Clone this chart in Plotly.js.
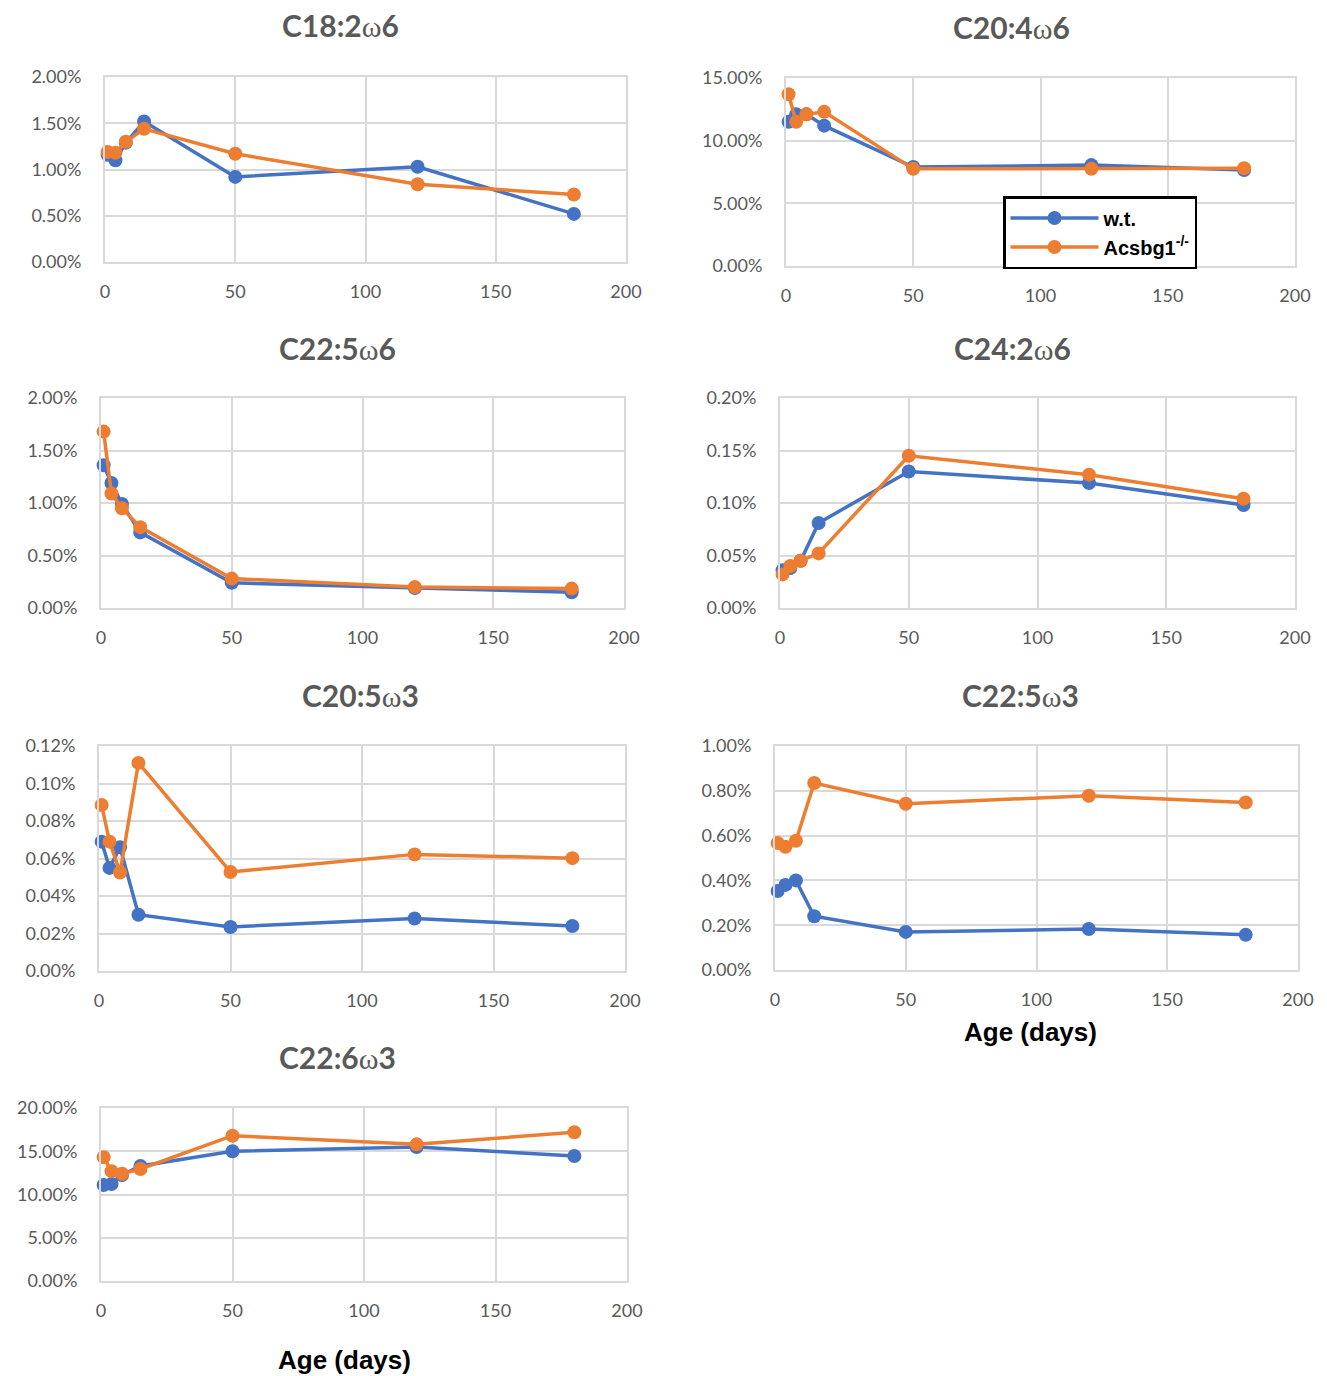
<!DOCTYPE html>
<html>
<head>
<meta charset="utf-8">
<script src="https://cdn.plot.ly/plotly-3.0.1.min.js"></script>
<style>
  html, body { margin: 0; padding: 0; background: #ffffff; }
  #chart { width: 1327px; height: 1376px; }
</style>
</head>
<body>
<div id="chart"></div>
<script>
// Age in days (x values, shared by every panel)
const ages = [1, 4, 8, 15, 50, 120, 180];

// Panel titles
const panelTitles = ["C18:2ω6", "C20:4ω6", "C22:5ω6", "C24:2ω6", "C20:5ω3", "C22:5ω3", "C22:6ω3"];

// Series names
const seriesNames = ["w.t.", "Acsbg1<sup>-/-</sup>"];

// Values in percent, w.t. (blue)
const wt_C18_2w6 = [1.16, 1.10, 1.29, 1.52, 0.92, 1.03, 0.52];
const wt_C20_4w6 = [11.5, 12.1, 12.1, 11.2, 7.9, 8.05, 7.65];
const wt_C22_5w6 = [1.36, 1.19, 0.99, 0.72, 0.24, 0.19, 0.15];
const wt_C24_2w6 = [0.036, 0.038, 0.045, 0.081, 0.130, 0.119, 0.098];
const wt_C20_5w3 = [0.069, 0.055, 0.066, 0.030, 0.0235, 0.028, 0.024];
const wt_C22_5w3 = [0.353, 0.38, 0.40, 0.24, 0.17, 0.183, 0.157];
const wt_C22_6w3 = [11.1, 11.2, 12.25, 13.3, 15.0, 15.5, 14.45];

// Values in percent, Acsbg1-/- (orange)
const ko_C18_2w6 = [1.19, 1.18, 1.30, 1.44, 1.17, 0.84, 0.73];
const ko_C20_4w6 = [13.7, 11.5, 12.1, 12.3, 7.75, 7.75, 7.8];
const ko_C22_5w6 = [1.68, 1.09, 0.95, 0.77, 0.28, 0.20, 0.185];
const ko_C24_2w6 = [0.032, 0.040, 0.045, 0.052, 0.145, 0.127, 0.104];
const ko_C20_5w3 = [0.0885, 0.069, 0.0525, 0.111, 0.0528, 0.0622, 0.0602];
const ko_C22_5w3 = [0.567, 0.55, 0.577, 0.835, 0.742, 0.778, 0.748];
const ko_C22_6w3 = [14.3, 12.7, 12.4, 12.95, 16.8, 15.8, 17.2];

// Y axis ranges / tick steps (percent)
const yMax  = [2, 15, 2, 0.2, 0.12, 1, 20];
const yStep = [0.5, 5, 0.5, 0.05, 0.02, 0.2, 5];

const wtSeries = [wt_C18_2w6, wt_C20_4w6, wt_C22_5w6, wt_C24_2w6, wt_C20_5w3, wt_C22_5w3, wt_C22_6w3];
const koSeries = [ko_C18_2w6, ko_C20_4w6, ko_C22_5w6, ko_C24_2w6, ko_C20_5w3, ko_C22_5w3, ko_C22_6w3];

// ---- layout geometry (pixels) ----
const W = 1327, H = 1376;
const boxes = [ // [left, right, top, bottom, titleX, titleY]
  [105, 626, 77, 262, 341, 25],
  [786, 1295, 78, 266, 1011, 27],
  [101, 624, 398, 608, 338, 348],
  [780, 1295, 398, 608, 1012, 348],
  [99, 625, 746, 971, 360, 695],
  [775, 1298, 746, 970, 1020, 695],
  [101, 627, 1108, 1281, 337, 1057]
];
const blue = '#4472C4', orange = '#ED7D31';
const grid = '#d9d9d9', textGray = '#595959';
const tickFont = {family: 'Lato, "Liberation Sans", sans-serif', size: 18, color: textGray};

function fmtTitle(s) {
  return s.replace('ω', '<span style="font-family:\'Liberation Serif\', serif;font-weight:normal">ω</span>');
}

const data = [];
const layout = {
  width: W, height: H,
  margin: {l: 0, r: 0, t: 0, b: 0},
  paper_bgcolor: '#ffffff', plot_bgcolor: '#ffffff',
  showlegend: true,
  legend: {
    x: 1003 / W, y: 1 - 196 / H, xanchor: 'left', yanchor: 'top',
    bgcolor: '#ffffff', bordercolor: '#000000', borderwidth: 2.5,
    font: {family: '"Liberation Sans", Arial, sans-serif', size: 20, color: '#000000', weight: 'bold'},
    tracegroupgap: 0, itemwidth: 88, traceorder: 'normal', entrywidth: 110
  },
  annotations: [],
  font: {family: 'Lato, "Liberation Sans", sans-serif'}
};

for (let i = 0; i < 7; i++) {
  const n = i === 0 ? '' : String(i + 1);
  const [l, r, t, b, tx, ty] = boxes[i];
  const common = {
    x: ages, mode: 'lines+markers', xaxis: 'x' + n, yaxis: 'y' + n, cliponaxis: false
  };
  data.push(Object.assign({}, common, {
    y: wtSeries[i], name: seriesNames[0], legendgroup: 'wt', showlegend: i === 1,
    line: {color: blue, width: 3.5}, marker: {color: blue, size: 14}
  }));
  data.push(Object.assign({}, common, {
    y: koSeries[i], name: seriesNames[1], legendgroup: 'ko', showlegend: i === 1,
    line: {color: orange, width: 3.5}, marker: {color: orange, size: 14}
  }));
  layout['xaxis' + n] = {
    domain: [l / W, r / W], anchor: 'y' + n,
    range: [0, 200], dtick: 50, tick0: 0,
    showgrid: true, gridcolor: grid, gridwidth: 2,
    showline: true, linecolor: grid, linewidth: 2, mirror: true,
    zeroline: false, ticks: '', ticklabelstandoff: 12,
    tickfont: tickFont, fixedrange: true
  };
  layout['yaxis' + n] = {
    domain: [1 - b / H, 1 - t / H], anchor: 'x' + n,
    range: [0, yMax[i]], dtick: yStep[i], tick0: 0,
    tickformat: '.2f', ticksuffix: '%',
    showgrid: true, gridcolor: grid, gridwidth: 2,
    showline: true, linecolor: grid, linewidth: 2, mirror: true,
    zeroline: false, ticks: '', ticklabelstandoff: 18,
    tickfont: tickFont, fixedrange: true
  };
  layout.annotations.push({
    text: fmtTitle(panelTitles[i]), xref: 'paper', yref: 'paper',
    x: tx / W, y: 1 - ty / H, xanchor: 'center', yanchor: 'middle',
    showarrow: false,
    font: {family: 'Lato, "Liberation Sans", sans-serif', size: 30, color: textGray, weight: 'bold'}
  });
}

// Axis titles "Age (days)"
layout.annotations.push({
  text: 'Age (days)', xref: 'paper', yref: 'paper', x: 1030 / W, y: 1 - 1032 / H,
  xanchor: 'center', yanchor: 'middle', showarrow: false,
  font: {family: '"Liberation Sans", Arial, sans-serif', size: 26, color: '#000000', weight: 'bold'}
});
layout.annotations.push({
  text: 'Age (days)', xref: 'paper', yref: 'paper', x: 344 / W, y: 1 - 1360 / H,
  xanchor: 'center', yanchor: 'middle', showarrow: false,
  font: {family: '"Liberation Sans", Arial, sans-serif', size: 26, color: '#000000', weight: 'bold'}
});

Plotly.newPlot('chart', data, layout, {displayModeBar: false, staticPlot: true});
</script>
</body>
</html>
